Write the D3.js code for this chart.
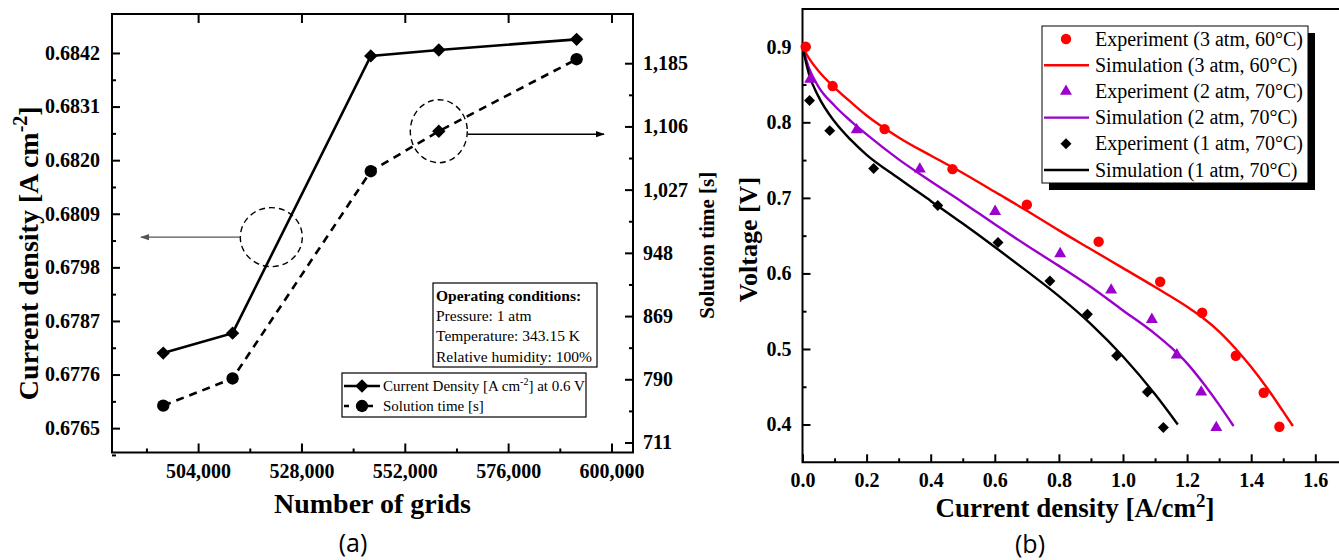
<!DOCTYPE html>
<html>
<head>
<meta charset="utf-8">
<script src="https://cdn.jsdelivr.net/npm/d3@7"></script>
<style>
  body { margin: 0; background: #fff; }
  svg { display: block; }
  .tick text { font-family: "Liberation Serif", serif; font-weight: bold; font-size: 20px; fill: #000; }
  .tick line { stroke: #000; stroke-width: 2; }
</style>
</head>
<body>
<svg id="fig" width="1339" height="560"></svg>
<script>
// ---------- Panel (a): grid independence study ----------
const grids          = [495900, 512000, 544100, 559900, 591900];
const currentDensity = [0.67804, 0.67845, 0.68414, 0.68426, 0.68448];
const solutionTime   = [757, 791, 1050, 1100, 1190];
const solutionShape  = ["circle", "circle", "circle", "diamond", "circle"];
const densityTicks   = [0.6765, 0.6776, 0.6787, 0.6798, 0.6809, 0.6820, 0.6831, 0.6842];
const timeTicks      = [711, 790, 869, 948, 1027, 1106, 1185];
const gridTicks      = [504000, 528000, 552000, 576000, 600000];
const conditionLines = ["Pressure: 1 atm", "Temperature: 343.15 K", "Relative humidity: 100%"];

// ---------- Panel (b): polarization curves ----------
const exp3I = [0.010, 0.094, 0.256, 0.468, 0.700, 0.924, 1.116, 1.247, 1.352, 1.439, 1.488];
const exp3V = [0.900, 0.848, 0.791, 0.738, 0.691, 0.642, 0.589, 0.548, 0.491, 0.442, 0.397];
const exp2I = [0.024, 0.169, 0.366, 0.601, 0.804, 0.963, 1.090, 1.168, 1.244, 1.291];
const exp2V = [0.857, 0.790, 0.738, 0.682, 0.626, 0.578, 0.539, 0.492, 0.443, 0.396];
const exp1I = [0.022, 0.085, 0.222, 0.422, 0.610, 0.772, 0.889, 0.980, 1.076, 1.126];
const exp1V = [0.829, 0.789, 0.739, 0.690, 0.641, 0.590, 0.546, 0.491, 0.443, 0.396];

const sim3I = [0, 0.02, 0.05, 0.10, 0.15, 0.20, 0.30, 0.40, 0.50, 0.60, 0.70, 0.80, 0.90, 1.00, 1.10, 1.20, 1.25, 1.30, 1.35, 1.40, 1.45, 1.50, 1.53];
const sim3V = [0.900, 0.885, 0.868, 0.846, 0.827, 0.809, 0.780, 0.756, 0.733, 0.708, 0.683, 0.657, 0.632, 0.607, 0.582, 0.556, 0.541, 0.523, 0.501, 0.476, 0.448, 0.417, 0.398];
const sim2I = [0, 0.02, 0.05, 0.10, 0.15, 0.20, 0.30, 0.40, 0.50, 0.60, 0.70, 0.80, 0.90, 1.00, 1.10, 1.15, 1.20, 1.25, 1.30, 1.345];
const sim2V = [0.900, 0.872, 0.847, 0.822, 0.802, 0.784, 0.751, 0.722, 0.694, 0.665, 0.637, 0.610, 0.582, 0.551, 0.520, 0.502, 0.481, 0.455, 0.426, 0.398];
const sim1I = [0, 0.02, 0.05, 0.10, 0.15, 0.20, 0.30, 0.40, 0.50, 0.60, 0.70, 0.80, 0.90, 1.00, 1.10, 1.171];
const sim1V = [0.900, 0.864, 0.834, 0.801, 0.777, 0.757, 0.726, 0.696, 0.666, 0.635, 0.603, 0.570, 0.533, 0.490, 0.440, 0.400];

const currentTicksB = [0, 0.2, 0.4, 0.6, 0.8, 1.0, 1.2, 1.4, 1.6];
const voltageTicksB = [0.4, 0.5, 0.6, 0.7, 0.8, 0.9];

const RED = "#ff0000", PURPLE = "#9b00cc", BLACK = "#000000";
const SERIF = "'Liberation Serif', serif";

const svg = d3.select("#fig");

// helpers
const zip = (xs, ys) => xs.map((x, i) => [x, ys[i]]);
const diamond = a => d3.symbol().type(d3.symbolSquare).size(a)();
function addText(g, x, y, txt, opts = {}) {
  return g.append("text").attr("x", x).attr("y", y)
    .attr("font-family", opts.family || SERIF)
    .attr("font-size", opts.size || 15)
    .attr("font-weight", opts.weight || "normal")
    .attr("text-anchor", opts.anchor || "start")
    .attr("fill", opts.fill || "#000")
    .text(txt);
}
function minorsBetween(ticks, extraBefore, extraAfter) {
  const step = ticks[1] - ticks[0];
  const out = [];
  for (let i = -extraBefore; i < ticks.length - 1 + extraAfter; i++) out.push(ticks[0] + (i + 0.5) * step);
  return out;
}

// ================= Panel (a) =================
const A = { left: 112, right: 633, top: 14, bottom: 452.5 };
const xA  = d3.scaleLinear().domain([484000, 605000]).range([A.left, A.right]);
const yAL = d3.scaleLinear().domain([0.676, 0.685]).range([A.bottom, A.top]);
const yAR = d3.scaleLinear().domain([698.5, 1246.5]).range([A.bottom, A.top]);

const gA = svg.append("g");

// axes (ticks pointing inward)
gA.append("g").attr("transform", `translate(0,${A.bottom})`)
  .call(d3.axisBottom(xA).tickValues(gridTicks).tickFormat(d3.format(",")).tickSize(-9).tickPadding(11))
  .call(g => g.select(".domain").remove());
gA.append("g").attr("transform", `translate(0,${A.bottom})`)
  .call(d3.axisBottom(xA).tickValues(minorsBetween(gridTicks, 1, 0)).tickFormat("").tickSize(-4))
  .call(g => g.select(".domain").remove());
gA.append("g").attr("transform", `translate(0,${A.top})`)
  .call(d3.axisTop(xA).tickValues(gridTicks).tickFormat("").tickSize(-9))
  .call(g => g.select(".domain").remove());

gA.append("g").attr("transform", `translate(${A.left},0)`)
  .call(d3.axisLeft(yAL).tickValues(densityTicks).tickFormat(d3.format(".4f")).tickSize(-8).tickPadding(12))
  .call(g => g.select(".domain").remove());
gA.append("g").attr("transform", `translate(${A.left},0)`)
  .call(d3.axisLeft(yAL).tickValues(minorsBetween(densityTicks, 1, 0)).tickFormat("").tickSize(-4))
  .call(g => g.select(".domain").remove());

gA.append("g").attr("transform", `translate(${A.right},0)`)
  .call(d3.axisRight(yAR).tickValues(timeTicks).tickFormat(d3.format(",")).tickSize(-8).tickPadding(10))
  .call(g => g.select(".domain").remove());
gA.append("g").attr("transform", `translate(${A.right},0)`)
  .call(d3.axisRight(yAR).tickValues(minorsBetween(timeTicks, 1, 0)).tickFormat("").tickSize(-4))
  .call(g => g.select(".domain").remove());

// frame
gA.append("rect").attr("x", A.left).attr("y", A.top)
  .attr("width", A.right - A.left).attr("height", A.bottom - A.top)
  .attr("fill", "none").attr("stroke", "#000").attr("stroke-width", 2);

// axis titles
const ttlL = gA.append("text").attr("transform", `translate(38,${(A.top + A.bottom) / 2 + 20}) rotate(-90)`)
  .attr("text-anchor", "middle").attr("font-family", SERIF).attr("font-weight", "bold").attr("font-size", 28);
ttlL.append("tspan").text("Current density [A cm");
ttlL.append("tspan").attr("dy", -11).attr("font-size", 20).text("-2");
ttlL.append("tspan").attr("dy", 11).text("]");

gA.append("text").attr("transform", `translate(714,${(A.top + A.bottom) / 2 + 12}) rotate(-90)`)
  .attr("text-anchor", "middle").attr("font-family", SERIF).attr("font-weight", "bold").attr("font-size", 21)
  .text("Solution time [s]");

addText(gA, (A.left + A.right) / 2, 513, "Number of grids", { size: 28, weight: "bold", anchor: "middle" });
addText(gA, 353, 552, "(a)", { size: 25, anchor: "middle", family: "'Open Sans', sans-serif" });

// series: current density (solid, diamonds)
const densPts = zip(grids, currentDensity);
gA.append("path").datum(densPts)
  .attr("d", d3.line().x(d => xA(d[0])).y(d => yAL(d[1])))
  .attr("fill", "none").attr("stroke", "#000").attr("stroke-width", 2.6);
gA.selectAll(".dmark").data(densPts).join("path")
  .attr("transform", d => `translate(${xA(d[0])},${yAL(d[1])}) rotate(45)`)
  .attr("d", diamond(90)).attr("fill", "#000");

// series: solution time (dashed)
const timePts = zip(grids, solutionTime);
gA.append("path").datum(timePts)
  .attr("d", d3.line().x(d => xA(d[0])).y(d => yAR(d[1])))
  .attr("fill", "none").attr("stroke", "#000").attr("stroke-width", 2.6).attr("stroke-dasharray", "8,6");
gA.selectAll(".tmark").data(timePts).join("path")
  .attr("transform", (d, i) => `translate(${xA(d[0])},${yAR(d[1])})` + (solutionShape[i] === "diamond" ? " rotate(45)" : ""))
  .attr("d", (d, i) => solutionShape[i] === "diamond" ? diamond(90) : d3.symbol().type(d3.symbolCircle).size(120)())
  .attr("fill", "#000");

// axis-indicator annotations
const noteLeft = { grid: 521000, value: 0.68042 };
const cxL = xA(noteLeft.grid), cyL = yAL(noteLeft.value);
gA.append("ellipse").attr("cx", cxL).attr("cy", cyL).attr("rx", 31).attr("ry", 29.5)
  .attr("fill", "none").attr("stroke", "#000").attr("stroke-width", 1.4).attr("stroke-dasharray", "6,4");
svg.append("defs").html(
  `<marker id="ahG" viewBox="0 0 10 10" refX="9" refY="5" markerWidth="9" markerHeight="9" markerUnits="userSpaceOnUse" orient="auto"><path d="M0,1.5 L10,5 L0,8.5 Z" fill="#555"/></marker>
   <marker id="ahK" viewBox="0 0 10 10" refX="9" refY="5" markerWidth="9" markerHeight="9" markerUnits="userSpaceOnUse" orient="auto"><path d="M0,1.5 L10,5 L0,8.5 Z" fill="#000"/></marker>`);
gA.append("line").attr("x1", cxL - 31).attr("y1", cyL).attr("x2", 141).attr("y2", cyL)
  .attr("stroke", "#555").attr("stroke-width", 1.4).attr("marker-end", "url(#ahG)");

const cxR = xA(grids[3]), cyR = yAR(solutionTime[3]);
gA.append("ellipse").attr("cx", cxR).attr("cy", cyR).attr("rx", 28.5).attr("ry", 31.5)
  .attr("fill", "none").attr("stroke", "#000").attr("stroke-width", 1.4).attr("stroke-dasharray", "6,4");
gA.append("line").attr("x1", cxR + 29).attr("y1", cyR + 3).attr("x2", 604).attr("y2", cyR + 3)
  .attr("stroke", "#000").attr("stroke-width", 1.4).attr("marker-end", "url(#ahK)");

// operating conditions box
const ocX = 433, ocY = 283;
gA.append("rect").attr("x", ocX).attr("y", ocY).attr("width", 164).attr("height", 84)
  .attr("fill", "#fff").attr("stroke", "#000").attr("stroke-width", 1.2);
addText(gA, ocX + 3, ocY + 18, "Operating conditions:", { size: 15.5, weight: "bold" });
conditionLines.forEach((t, i) => addText(gA, ocX + 3, ocY + 38 + i * 20.3, t, { size: 15.5 }));

// legend box
const lgX = 342, lgY = 373;
gA.append("rect").attr("x", lgX).attr("y", lgY).attr("width", 244).attr("height", 44)
  .attr("fill", "#fff").attr("stroke", "#000").attr("stroke-width", 1.2);
gA.append("line").attr("x1", lgX + 2).attr("x2", lgX + 38).attr("y1", lgY + 13).attr("y2", lgY + 13)
  .attr("stroke", "#000").attr("stroke-width", 2.6);
gA.append("path").attr("transform", `translate(${lgX + 20},${lgY + 13}) rotate(45)`).attr("d", diamond(90));
gA.append("line").attr("x1", lgX + 2).attr("x2", lgX + 38).attr("y1", lgY + 33).attr("y2", lgY + 33)
  .attr("stroke", "#000").attr("stroke-width", 2.6).attr("stroke-dasharray", "5,7");
gA.append("path").attr("transform", `translate(${lgX + 20},${lgY + 33})`).attr("d", d3.symbol().type(d3.symbolCircle).size(120)());
const lg1 = addText(gA, lgX + 41, lgY + 18, "", { size: 15 });
lg1.append("tspan").text("Current Density [A cm");
lg1.append("tspan").attr("dy", -6).attr("font-size", 10).text("-2");
lg1.append("tspan").attr("dy", 6).text("] at 0.6 V");
addText(gA, lgX + 41, lgY + 38, "Solution time [s]", { size: 15 });

// ================= Panel (b) =================
const B = { left: 802.5, top: 9, bottom: 462.3 };
const xB = d3.scaleLinear().domain([0, 1.8]).range([B.left, B.left + 1.8 * 320.5]);
const yB = d3.scaleLinear().domain([0.35, 0.95]).range([B.bottom, B.top]);
const gB = svg.append("g");

gB.append("g").attr("transform", `translate(0,${B.bottom})`)
  .call(d3.axisBottom(xB).tickValues(currentTicksB).tickFormat(d3.format(".1f")).tickSize(-8).tickPadding(11))
  .call(g => g.select(".domain").remove());
gB.append("g").attr("transform", `translate(0,${B.bottom})`)
  .call(d3.axisBottom(xB).tickValues(minorsBetween(currentTicksB, 0, 1)).tickFormat("").tickSize(-4))
  .call(g => g.select(".domain").remove());
gB.append("g").attr("transform", `translate(${B.left},0)`)
  .call(d3.axisLeft(yB).tickValues(voltageTicksB).tickFormat(d3.format(".1f")).tickSize(-8).tickPadding(11))
  .call(g => g.select(".domain").remove());
gB.append("g").attr("transform", `translate(${B.left},0)`)
  .call(d3.axisLeft(yB).tickValues(minorsBetween(voltageTicksB, 0, 0)).tickFormat("").tickSize(-4))
  .call(g => g.select(".domain").remove());

// axis lines
gB.append("path").attr("d", `M1339,${B.top}H${B.left}V${B.bottom}H1339`)
  .attr("fill", "none").attr("stroke", "#000").attr("stroke-width", 2);

// titles
gB.append("text").attr("transform", `translate(757,${(B.top + B.bottom) / 2 + 4}) rotate(-90)`)
  .attr("text-anchor", "middle").attr("font-family", SERIF).attr("font-weight", "bold").attr("font-size", 26)
  .text("Voltage [V]");
const ttlB = addText(gB, 1075, 517, "", { size: 27, weight: "bold", anchor: "middle" });
ttlB.append("tspan").text("Current density [A/cm");
ttlB.append("tspan").attr("dy", -10).attr("font-size", 19).text("2");
ttlB.append("tspan").attr("dy", 10).text("]");
addText(gB, 1030, 553, "(b)", { size: 25, anchor: "middle", family: "'Open Sans', sans-serif" });

// simulation curves
const simLine = d3.line().x(d => xB(d[0])).y(d => yB(d[1])).curve(d3.curveMonotoneX);
[[sim3I, sim3V, RED], [sim2I, sim2V, PURPLE], [sim1I, sim1V, BLACK]].forEach(([xs, ys, c]) => {
  gB.append("path").datum(zip(xs, ys)).attr("d", simLine)
    .attr("fill", "none").attr("stroke", c).attr("stroke-width", 2.4);
});

// experimental markers
const circleSym = d3.symbol().type(d3.symbolCircle).size(85)();
const triSym = d3.symbol().type(d3.symbolTriangle).size(62)();
gB.selectAll(".e3").data(zip(exp3I, exp3V)).join("path")
  .attr("transform", d => `translate(${xB(d[0])},${yB(d[1])})`).attr("d", circleSym).attr("fill", RED);
gB.selectAll(".e2").data(zip(exp2I, exp2V)).join("path")
  .attr("transform", d => `translate(${xB(d[0])},${yB(d[1])})`).attr("d", triSym).attr("fill", PURPLE);
gB.selectAll(".e1").data(zip(exp1I, exp1V)).join("path")
  .attr("transform", d => `translate(${xB(d[0])},${yB(d[1])}) rotate(45)`).attr("d", diamond(60)).attr("fill", BLACK);

// legend with drop shadow
const lb = { x: 1042, y: 26, w: 266, h: 157 };
gB.append("rect").attr("x", lb.x + 7).attr("y", lb.y + 7).attr("width", lb.w).attr("height", lb.h).attr("fill", "#000");
gB.append("rect").attr("x", lb.x).attr("y", lb.y).attr("width", lb.w).attr("height", lb.h)
  .attr("fill", "#fff").attr("stroke", "#000").attr("stroke-width", 1);
const legendItems = [
  { kind: "circle", color: RED, label: "Experiment (3 atm, 60°C)" },
  { kind: "line", color: RED, label: "Simulation (3 atm, 60°C)" },
  { kind: "triangle", color: PURPLE, label: "Experiment (2 atm, 70°C)" },
  { kind: "line", color: PURPLE, label: "Simulation (2 atm, 70°C)" },
  { kind: "diamond", color: BLACK, label: "Experiment (1 atm, 70°C)" },
  { kind: "line", color: BLACK, label: "Simulation (1 atm, 70°C)" }
];
legendItems.forEach((it, i) => {
  const cy = lb.y + 13 + i * 26.2;
  if (it.kind === "line") {
    gB.append("line").attr("x1", lb.x + 2).attr("x2", lb.x + 47).attr("y1", cy).attr("y2", cy)
      .attr("stroke", it.color).attr("stroke-width", 2.4);
  } else {
    const p = gB.append("path").attr("fill", it.color);
    if (it.kind === "circle") p.attr("transform", `translate(${lb.x + 24},${cy})`).attr("d", circleSym);
    if (it.kind === "triangle") p.attr("transform", `translate(${lb.x + 24},${cy})`).attr("d", triSym);
    if (it.kind === "diamond") p.attr("transform", `translate(${lb.x + 24},${cy}) rotate(45)`).attr("d", diamond(60));
  }
  addText(gB, lb.x + 53, cy + 6.5, it.label, { size: 20 });
});
</script>
</body>
</html>
